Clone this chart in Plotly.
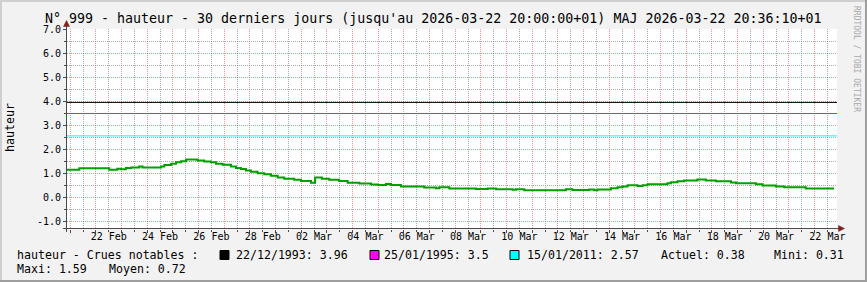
import plotly.graph_objects as go

# ---------------- data ----------------
level_times = [
    "2026-02-20 21:00", "2026-02-21 08:30", "2026-02-22 12:30", "2026-02-22 20:00",
    "2026-02-22 23:30", "2026-02-23 04:00", "2026-02-23 09:00", "2026-02-23 16:30",
    "2026-02-23 19:40", "2026-02-24 13:00", "2026-02-24 16:00", "2026-02-24 22:20",
    "2026-02-25 03:00", "2026-02-25 07:40", "2026-02-25 12:20", "2026-02-25 23:00",
    "2026-02-26 05:20", "2026-02-26 11:40", "2026-02-26 16:20", "2026-02-26 22:30",
    "2026-02-27 06:20", "2026-02-27 11:00", "2026-02-27 15:40", "2026-02-27 20:20",
    "2026-02-28 01:00", "2026-02-28 07:10", "2026-02-28 13:30", "2026-02-28 19:40",
    "2026-03-01 02:00", "2026-03-01 08:10", "2026-03-01 17:30", "2026-03-01 23:50",
    "2026-03-02 09:10", "2026-03-02 13:00", "2026-03-02 19:25", "2026-03-03 02:10",
    "2026-03-03 11:30", "2026-03-03 19:25", "2026-03-04 06:20", "2026-03-04 17:15",
    "2026-03-04 23:30", "2026-03-05 07:15", "2026-03-05 12:00", "2026-03-05 21:20",
    "2026-03-06 19:00", "2026-03-07 06:00", "2026-03-07 09:10", "2026-03-07 18:30",
    "2026-03-08 19:25", "2026-03-09 06:20", "2026-03-09 14:10", "2026-03-10 05:40",
    "2026-03-10 08:50", "2026-03-10 16:35", "2026-03-12 07:30", "2026-03-12 13:40",
    "2026-03-13 05:20", "2026-03-13 10:00", "2026-03-13 13:10", "2026-03-14 01:40",
    "2026-03-14 07:50", "2026-03-14 12:30", "2026-03-14 17:10", "2026-03-15 02:25",
    "2026-03-15 07:10", "2026-03-15 11:50", "2026-03-16 06:30", "2026-03-16 09:40",
    "2026-03-16 15:50", "2026-03-16 22:05", "2026-03-17 10:30", "2026-03-17 18:25",
    "2026-03-18 03:50", "2026-03-18 17:50", "2026-03-18 22:30", "2026-03-19 17:15",
    "2026-03-19 23:20", "2026-03-20 12:00", "2026-03-20 19:40", "2026-03-21 15:50",
]
level_values = [
    1.16, 1.22, 1.16, 1.20,
    1.18, 1.23, 1.26, 1.30,
    1.26, 1.30, 1.36, 1.41,
    1.47, 1.52, 1.59, 1.55,
    1.51, 1.47, 1.41, 1.37,
    1.30, 1.24, 1.19, 1.13,
    1.08, 1.02, 0.97, 0.91,
    0.84, 0.79, 0.75, 0.69,
    0.62, 0.84, 0.79, 0.75,
    0.69, 0.62, 0.59, 0.55,
    0.53, 0.57, 0.53, 0.47,
    0.42, 0.39, 0.43, 0.38,
    0.36, 0.38, 0.35, 0.33,
    0.35, 0.31, 0.35, 0.32,
    0.34, 0.31, 0.34, 0.39,
    0.43, 0.47, 0.52, 0.49,
    0.52, 0.56, 0.60, 0.64,
    0.68, 0.72, 0.76, 0.72,
    0.68, 0.63, 0.60, 0.56,
    0.51, 0.47, 0.43, 0.38,
]
level_end_time = "2026-03-22 18:15"

flood_dates = ["22/12/1993", "25/01/1995", "15/01/2011"]
flood_levels = [3.96, 3.5, 2.57]
flood_colors = ["#000000", "#FF00FF", "#00FFFF"]

stat_actuel = 0.38
stat_mini = 0.31
stat_maxi = 1.59
stat_moyen = 0.72

x_tick_dates = [
    "2026-02-22 12:00", "2026-02-24 12:00", "2026-02-26 12:00", "2026-02-28 12:00",
    "2026-03-02 12:00", "2026-03-04 12:00", "2026-03-06 12:00", "2026-03-08 12:00",
    "2026-03-10 12:00", "2026-03-12 12:00", "2026-03-14 12:00", "2026-03-16 12:00",
    "2026-03-18 12:00", "2026-03-20 12:00", "2026-03-22 12:00",
]
x_tick_labels = [
    "22 Feb", "24 Feb", "26 Feb", "28 Feb", "02 Mar", "04 Mar", "06 Mar", "08 Mar",
    "10 Mar", "12 Mar", "14 Mar", "16 Mar", "18 Mar", "20 Mar", "22 Mar",
]
y_tick_values = [-1, 0, 1, 2, 3, 4, 5, 6, 7]
y_tick_labels = ["-1.0", "0.0", "1.0", "2.0", "3.0", "4.0", "5.0", "6.0", "7.0"]

title_text = ("N° 999 - hauteur - 30 derniers jours (jusqu'au 2026-03-22 20:00:00+01) "
              "MAJ 2026-03-22 20:36:10+01")

# ---------------- layout geometry ----------------
W, H = 867, 282
L, R, T, B = 67, 837, 29, 229
x_range = ["2026-02-20 21:00", "2026-03-22 21:00"]
y_range = [-1.30, 7.011]

MONO = "DejaVu Sans Mono"
GRID = "rgba(143,143,143,0.75)"
MGRID = "rgba(222,79,79,0.6)"
AXIS = "#4a4a4a"
ARROW = "#7F1F1F"


def px(x):
    return (x - L) / (R - L)


def py(y):
    return (B - y) / (B - T)


fig = go.Figure()

for lvl, col in zip(flood_levels, flood_colors):
    fig.add_trace(go.Scatter(x=x_range, y=[lvl, lvl], mode="lines",
                             line=dict(color=col, width=1), hoverinfo="skip",
                             showlegend=False))

fig.add_trace(go.Scatter(x=level_times + [level_end_time],
                         y=level_values + [level_values[-1]],
                         mode="lines", line=dict(color="#00A000", width=2, shape="hv"),
                         showlegend=False))

# invisible trace to carry the label axis
fig.add_trace(go.Scatter(x=x_range, y=[None, None], xaxis="x2", mode="lines",
                         showlegend=False, hoverinfo="skip"))

shapes = []
# frame shading
shapes.append(dict(type="rect", xref="paper", yref="paper", x0=px(0), x1=px(W), y0=py(0), y1=py(2),
                   fillcolor="#CFCFCF", line=dict(width=0), layer="above"))
shapes.append(dict(type="rect", xref="paper", yref="paper", x0=px(0), x1=px(2), y0=py(0), y1=py(H),
                   fillcolor="#CFCFCF", line=dict(width=0), layer="above"))
shapes.append(dict(type="rect", xref="paper", yref="paper", x0=px(0), x1=px(W), y0=py(H - 2), y1=py(H),
                   fillcolor="#9E9E9E", line=dict(width=0), layer="above"))
shapes.append(dict(type="rect", xref="paper", yref="paper", x0=px(W - 2), x1=px(W), y0=py(0), y1=py(H),
                   fillcolor="#9E9E9E", line=dict(width=0), layer="above"))
# axis lines
shapes.append(dict(type="line", xref="paper", yref="paper", x0=px(63), x1=px(840), y0=py(228.5), y1=py(228.5),
                   line=dict(color=AXIS, width=1), layer="above"))
shapes.append(dict(type="line", xref="paper", yref="paper", x0=px(66.5), x1=px(66.5), y0=py(232), y1=py(25),
                   line=dict(color=AXIS, width=1), layer="above"))
# arrows
shapes.append(dict(type="path", xref="paper", yref="paper",
                   path=f"M {px(66.5)} {py(20.5)} L {px(63.5)} {py(26.5)} L {px(69.5)} {py(26.5)} Z",
                   fillcolor=ARROW, line=dict(color=ARROW, width=0.5), layer="above"))
shapes.append(dict(type="path", xref="paper", yref="paper",
                   path=f"M {px(844.5)} {py(228.5)} L {px(838.5)} {py(225.5)} L {px(838.5)} {py(231.5)} Z",
                   fillcolor=ARROW, line=dict(color=ARROW, width=0.5), layer="above"))

annotations = []


def txt(x, y, s, size=11.6, color="#000000", xanchor="left", angle=0):
    annotations.append(dict(x=px(x), y=py(y), xref="paper", yref="paper", text=s, showarrow=False,
                            xanchor=xanchor, yanchor="middle", textangle=angle,
                            font=dict(family=MONO, size=size, color=color), borderpad=0))


txt(W / 2, 18.0, title_text, size=13.3, xanchor="center")
txt(857, 59, "RRDTOOL / TOBI OETIKER", size=8, color="#A8A8A8", xanchor="center", angle=90)
txt(10, 128, "hauteur", size=11.6, xanchor="center", angle=-90)

# legend line 1
txt(16, 255, "hauteur - Crues notables :")
box_x = [220, 370, 510]
text_x = [235, 383, 526]
for bx, tx, d, lvl, col in zip(box_x, text_x, flood_dates, flood_levels, flood_colors):
    shapes.append(dict(type="rect", xref="paper", yref="paper", x0=px(bx), x1=px(bx + 9),
                       y0=py(259.5), y1=py(250.5), fillcolor=col, line=dict(color="#000000", width=1),
                       layer="above"))
    txt(tx, 255, f"{d}: {lvl:g}")
txt(660, 255, f"Actuel: {stat_actuel:.2f}")
txt(773, 255, f"Mini: {stat_mini:.2f}")
# legend line 2
txt(16, 268.5, f"Maxi: {stat_maxi:.2f}")
txt(108, 268.5, f"Moyen: {stat_moyen:.2f}")

fig.update_layout(
    width=W, height=H,
    margin=dict(l=L, r=W - R, t=T, b=H - B, pad=0),
    paper_bgcolor="#F2F2F2", plot_bgcolor="#FFFFFF",
    showlegend=False,
    shapes=shapes, annotations=annotations,
    xaxis=dict(
        type="date", range=x_range, showline=False, zeroline=False,
        tickmode="linear", tick0="2026-02-21", dtick=86400000,
        showgrid=True, gridcolor=MGRID, griddash="1px,1px", gridwidth=1,
        showticklabels=False, ticks="outside", ticklen=3, tickcolor=AXIS,
        minor=dict(tickmode="linear", tick0="2026-02-21", dtick=43200000,
                   showgrid=True, gridcolor=GRID, griddash="1px,1px", gridwidth=1,
                   ticks="outside", ticklen=2, tickcolor=AXIS),
    ),
    xaxis2=dict(
        type="date", range=x_range, overlaying="x", anchor="y", side="bottom",
        showgrid=False, zeroline=False, showline=False,
        tickmode="array", tickvals=x_tick_dates, ticktext=x_tick_labels,
        ticks="", tickfont=dict(family=MONO, size=10, color="#000000"),
    ),
    yaxis=dict(
        range=y_range, showline=False, zeroline=False,
        tickmode="array", tickvals=y_tick_values, ticktext=y_tick_labels,
        showgrid=True, gridcolor=MGRID, griddash="1px,1px", gridwidth=1,
        ticks="outside", ticklen=3, tickcolor=AXIS,
        tickfont=dict(family=MONO, size=10, color="#000000"),
        minor=dict(tickmode="linear", tick0=0.5, dtick=1.0,
                   showgrid=True, gridcolor=GRID, griddash="1px,1px", gridwidth=1,
                   ticks="outside", ticklen=2, tickcolor=AXIS),
    ),
)

fig.write_html("out.html")
